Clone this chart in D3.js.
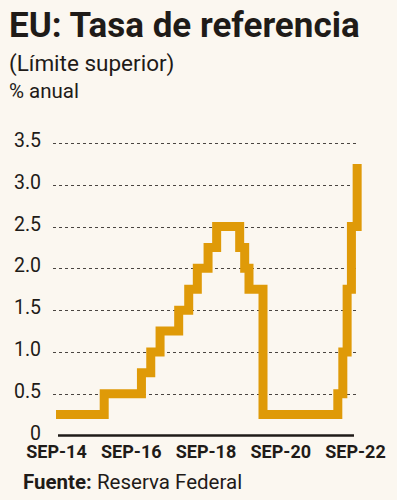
<!DOCTYPE html>
<html>
<head>
<meta charset="utf-8">
<script src="https://cdn.jsdelivr.net/npm/d3@7"></script>
<style>
  html, body { margin: 0; padding: 0; background: #fbf7f0; }
  svg { display: block; font-family: Roboto, "Noto Sans", sans-serif; }
</style>
</head>
<body>
<svg id="chart" width="397" height="500"></svg>
<script>
    // fechas de cambio de la tasa (limite superior) y su valor
    var changeDates = ['2014-09-01', '2015-12-16', '2016-12-14', '2017-03-15', '2017-06-14',
            '2017-12-13', '2018-03-21', '2018-06-13', '2018-09-26', '2018-12-19',
            '2019-08-01', '2019-09-19', '2019-10-31', '2020-03-16', '2022-03-17',
            '2022-05-05', '2022-06-16', '2022-07-28', '2022-09-22'],
        rates = [0.25, 0.50, 0.75, 1.00, 1.25,
            1.50, 1.75, 2.00, 2.25, 2.50,
            2.25, 2.00, 1.75, 0.25, 0.50,
            1.00, 1.75, 2.50, 3.25],
        yTicks = [0, 0.5, 1.0, 1.5, 2.0, 2.5, 3.0, 3.5],
        xTickDates = ['2014-09-01', '2016-09-01', '2018-09-01', '2020-09-01', '2022-09-01'],
        xTickLabels = ['SEP-14', 'SEP-16', 'SEP-18', 'SEP-20', 'SEP-22'];

    var parse = d3.timeParse('%Y-%m-%d'),
        lineColor = '#df9a08',
        ink = '#1f1b18';

    var svg = d3.select('#chart');

    var x = d3.scaleTime()
        .domain([parse('2014-09-01'), parse('2022-09-01')])
        .range([56, 355]);

    var y = d3.scaleLinear()
        .domain([0, 3.5])
        .range([435.5, 143]);

    // titulos
    svg.append('text')
        .attr('x', 9).attr('y', 37)
        .attr('font-size', 35).attr('font-weight', 700)
        .attr('fill', ink)
        .text('EU: Tasa de referencia');

    svg.append('text')
        .attr('x', 9).attr('y', 71)
        .attr('font-size', 22.5)
        .attr('fill', ink)
        .text('(Límite superior)');

    svg.append('text')
        .attr('x', 9).attr('y', 98)
        .attr('font-size', 20.5)
        .attr('fill', ink)
        .text('% anual');

    // rejilla
    svg.append('g')
        .selectAll('line')
        .data(yTicks.filter(function (d) { return d > 0; }))
        .enter().append('line')
        .attr('x1', 53).attr('x2', 357)
        .attr('y1', function (d) { return Math.round(y(d)) + 0.5; })
        .attr('y2', function (d) { return Math.round(y(d)) + 0.5; })
        .attr('stroke', '#4a4541')
        .attr('stroke-width', 1)
        .attr('stroke-dasharray', '3,3');

    // eje y
    var yAxis = svg.append('g')
        .attr('transform', 'translate(41,0)')
        .call(d3.axisLeft(y)
            .tickValues(yTicks)
            .tickSize(0)
            .tickPadding(0)
            .tickFormat(function (d) { return d === 0 ? '0' : d3.format('.1f')(d); }));
    yAxis.select('.domain').remove();
    yAxis.selectAll('text')
        .attr('font-family', 'Roboto, "Noto Sans", sans-serif')
        .attr('font-size', 19.5)
        .attr('fill', ink)
        .attr('dy', '0.18em');

    // eje x
    var xAxis = svg.append('g')
        .attr('transform', 'translate(0,435.5)')
        .call(d3.axisBottom(x)
            .tickValues(xTickDates.map(parse))
            .tickSize(0)
            .tickSizeOuter(0)
            .tickPadding(10)
            .tickFormat(function (d, i) { return xTickLabels[i]; }));
    xAxis.select('.domain')
        .attr('stroke', ink)
        .attr('stroke-width', 2.5)
        .attr('d', 'M58,0H354');
    xAxis.selectAll('text')
        .attr('font-family', 'Roboto, "Noto Sans", sans-serif')
        .attr('font-size', 18)
        .attr('font-weight', 700)
        .attr('fill', ink);

    // linea de la tasa
    var points = changeDates.map(function (d, i) {
        return {date: parse(d), value: rates[i]};
    });

    var line = d3.line()
        .x(function (d) { return x(d.date); })
        .y(function (d) { return y(d.value); })
        .curve(d3.curveStepAfter);

    svg.append('path')
        .datum(points)
        .attr('d', line)
        .attr('fill', 'none')
        .attr('stroke', lineColor)
        .attr('stroke-width', 9)
        .attr('stroke-linejoin', 'miter')
        .attr('stroke-linecap', 'butt');

    // fuente
    var source = svg.append('text')
        .attr('x', 23).attr('y', 489)
        .attr('font-size', 20.5)
        .attr('fill', ink);
    source.append('tspan').attr('font-weight', 700).text('Fuente:');
    source.append('tspan').text(' Reserva Federal');
</script>
</body>
</html>
